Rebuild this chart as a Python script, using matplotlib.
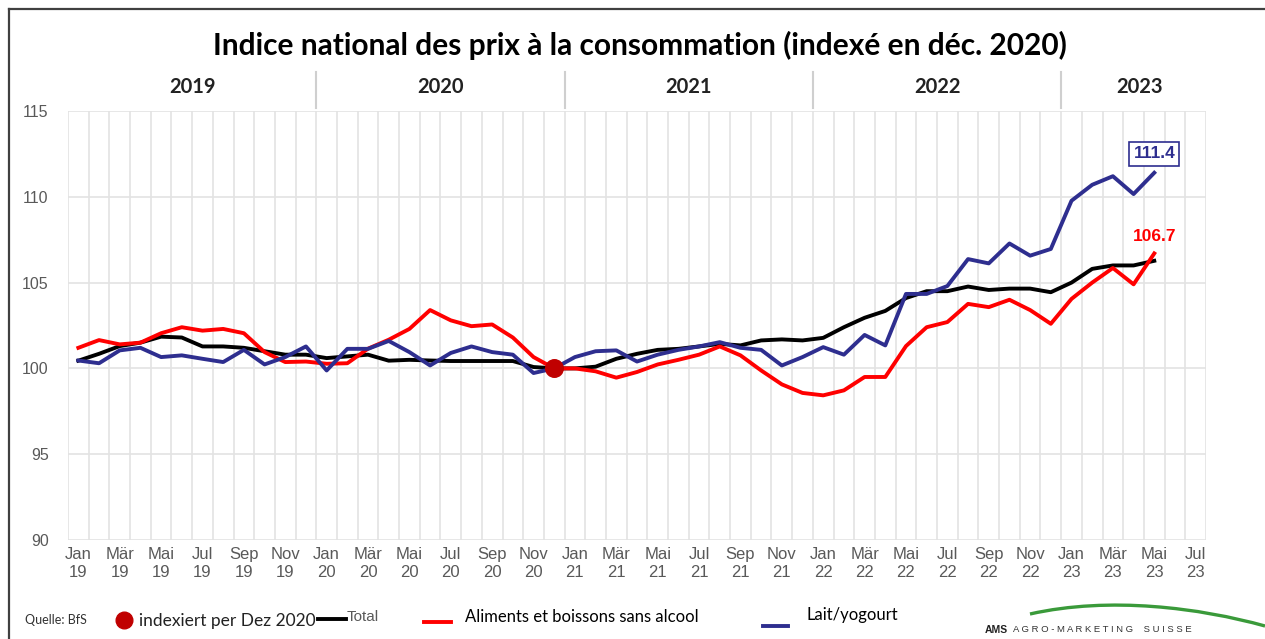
import numpy as np
import matplotlib
matplotlib.use('Agg')
import matplotlib.pyplot as plt
from matplotlib.lines import Line2D
from matplotlib.path import Path
from matplotlib.patches import PathPatch
import matplotlib.transforms as mtransforms

# Monatswerte Jan 19 .. Mai 23 (Index Dez 2020 = 100)
total = [100.45, 100.85, 101.3, 101.5, 101.85, 101.8, 101.28, 101.28, 101.2, 101.0, 100.8, 100.8,
         100.6, 100.7, 100.8, 100.45, 100.5, 100.46, 100.43, 100.43, 100.43, 100.43, 100.08, 100.0,
         100.0, 100.1, 100.56, 100.85, 101.08, 101.14, 101.28, 101.43, 101.34, 101.63, 101.69, 101.63,
         101.78, 102.4, 102.95, 103.35, 104.1, 104.5, 104.5, 104.77, 104.57, 104.65, 104.65, 104.44,
         105.0, 105.8, 106.0, 106.0, 106.27]
aliments = [101.2, 101.65, 101.4, 101.5, 102.05, 102.4, 102.2, 102.3, 102.05, 100.95, 100.37, 100.4,
            100.27, 100.3, 101.15, 101.67, 102.3, 103.4, 102.8, 102.46, 102.56, 101.8, 100.66, 100.0,
            100.0, 99.83, 99.46, 99.79, 100.23, 100.5, 100.8, 101.28, 100.76, 99.88, 99.07, 98.57,
            98.43, 98.72, 99.5, 99.5, 101.3, 102.4, 102.7, 103.76, 103.57, 104.0, 103.4, 102.6,
            104.05, 105.0, 105.85, 104.9, 106.7]
lait = [100.46, 100.3, 101.05, 101.2, 100.66, 100.76, 100.56, 100.37, 101.08, 100.23, 100.66, 101.28,
        99.88, 101.14, 101.14, 101.6, 100.95, 100.17, 100.9, 101.28, 100.95, 100.8, 99.73, 100.0,
        100.66, 101.0, 101.05, 100.4, 100.8, 101.08, 101.28, 101.53, 101.2, 101.08, 100.17, 100.66,
        101.24, 100.8, 101.95, 101.34, 104.34, 104.34, 104.8, 106.37, 106.12, 107.28, 106.57, 106.96,
        109.77, 110.7, 111.2, 110.16, 111.4]

month_names = ["Jan", "Mär", "Mai", "Jul", "Sep", "Nov"]
years = ["2019", "2020", "2021", "2022", "2023"]
n_months = 55  # Jan 19 .. Jul 23
base_idx = 23  # Dez 2020

RED = "#ff0000"
BLUE = "#2e2e8f"
DARKRED = "#c00000"
GREY = "#595959"

fig = plt.figure(figsize=(12.65, 6.39), dpi=100)
ax = fig.add_axes([68 / 1265, 1 - 540 / 639, (1206 - 68) / 1265, (540 - 111) / 639])

x = np.arange(len(total))
ax.plot(x, total, color="black", lw=2.8, zorder=3)
ax.plot(x, aliments, color=RED, lw=2.8, zorder=4)
ax.plot(x, lait, color=BLUE, lw=2.8, zorder=5)
ax.scatter([base_idx], [total[base_idx]], s=160, color=DARKRED, zorder=6)

ax.set_xlim(-0.5, n_months - 0.5)
ax.set_ylim(90, 115)
ax.set_yticks(np.arange(90, 116, 5))
ax.set_yticklabels([str(v) for v in range(90, 116, 5)], color=GREY,
                   fontsize=11.5, family="Liberation Sans")
ticks = list(range(0, n_months, 2))
labels = [f"{month_names[(t % 12) // 2]}\n{19 + t // 12}" for t in ticks]
ax.set_xticks(ticks)
ax.set_xticklabels(labels, color=GREY, fontsize=12, family="Liberation Sans", linespacing=1.25)
ax.tick_params(length=0, pad=5)
ax.tick_params(axis="y", pad=14)

for v in range(90, 116, 5):
    ax.axhline(v, color="#e3e3e3", lw=1.2, zorder=1)
for b in np.arange(-0.5, n_months, 1.0):
    ax.axvline(b, color="#e3e3e3", lw=1.2, zorder=1)
for s in ax.spines.values():
    s.set_visible(False)

# Jahresband oben
trans = mtransforms.blended_transform_factory(ax.transData, ax.transAxes)
for k in range(1, 5):
    ax.add_line(Line2D([12 * k - 0.5] * 2, [1.007, 1.09], color="#cfcfcf", lw=1.5,
                       transform=trans, clip_on=False))
year_pos = [5.5, 17.5, 29.5, 41.5, 51.3]
for xp, yr in zip(year_pos, years):
    ax.text(xp, 1.056, yr, transform=trans, ha="center", va="center",
            fontsize=14.5, fontweight="bold", family="Lato", color="#222222")

# Endwerte
ax.text(len(lait) - 1, 111.4 + 1.1, "111.4", ha="center", va="center", fontsize=12.5,
        fontweight="bold", family="Liberation Sans", color=BLUE,
        bbox=dict(boxstyle="square,pad=0.25", fc="white", ec=BLUE, lw=1.2))
ax.text(len(aliments) - 1, 106.7 + 1.0, "106.7", ha="center", va="center", fontsize=12.5,
        fontweight="bold", family="Liberation Sans", color=RED)

fig.text(640 / 1265, 1 - 45 / 639, "Indice national des prix à la consommation (indexé en déc. 2020)",
         ha="center", va="center", fontsize=21.5, fontweight="bold", family="Lato")

# Rahmen
fig.add_artist(Line2D([9 / 1265, 9 / 1265], [0, 1 - 9 / 639], color="#404040", lw=1.6))
fig.add_artist(Line2D([9 / 1265, 1], [1 - 9 / 639, 1 - 9 / 639], color="#404040", lw=1.6))

# Legende unten
def fx(px):
    return px / 1265

def fy(py):
    return 1 - py / 639

fig.text(fx(25), fy(620), "Quelle: BfS", fontsize=9, family="Lato", color="#333333", va="center")
fig.add_artist(Line2D([fx(124)], [fy(620)], marker="o", markersize=12, color=DARKRED, lw=0))
fig.text(fx(139), fy(621), "indexiert per Dez 2020", fontsize=12.5, family="Lato",
         color="#222222", va="center")
fig.add_artist(Line2D([fx(318), fx(346)], [fy(619), fy(619)], color="black", lw=2.8))
fig.text(fx(347), fy(617), "Total", fontsize=11, family="Liberation Sans", color=GREY, va="center")
fig.add_artist(Line2D([fx(424), fx(451)], [fy(622), fy(622)], color=RED, lw=2.8))
fig.text(fx(465), fy(617), "Aliments et boissons sans alcool", fontsize=12, family="Lato",
         color="black", va="center")
fig.add_artist(Line2D([fx(763), fx(788)], [fy(626), fy(626)], color=BLUE, lw=2.8))
fig.text(fx(806), fy(615), "Lait/yogourt", fontsize=12, family="Lato", color="black", va="center")

# Logo
verts = [(fx(1030), fy(614)), (fx(1110), fy(596)), (fx(1200), fy(608)), (fx(1265), fy(626))]
fig.add_artist(PathPatch(Path(verts, [Path.MOVETO, Path.CURVE4, Path.CURVE4, Path.CURVE4]),
                         fc="none", ec="#3a9a3a", lw=2.4, transform=fig.transFigure))
fig.text(fx(985), fy(630), "AMS", fontsize=7.5, fontweight="bold", family="Liberation Sans",
         color="#222222", va="center")
fig.text(fx(1013), fy(630), "A G R O - M A R K E T I N G    S U I S S E", fontsize=6.8,
         family="Liberation Sans", color="#333333", va="center")

fig.savefig("out.png", dpi=100)
